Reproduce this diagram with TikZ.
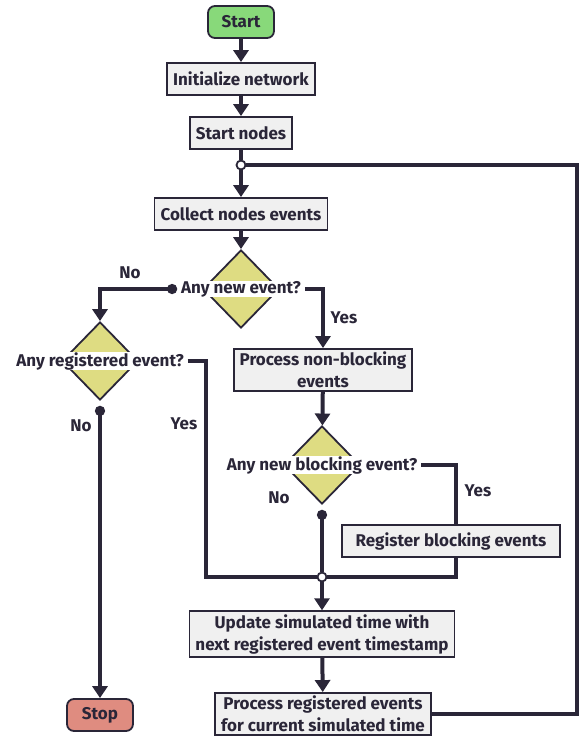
\documentclass[tikz,border=0pt]{standalone}
\usepackage{fontspec}
\setmainfont{Fira Sans}
\usetikzlibrary{
  arrows.meta,
  shapes.geometric,
  positioning,
  calc
}
\definecolor{ink}{HTML}{2A2638}
\definecolor{boxgray}{HTML}{F0F0F0}
\definecolor{startgreen}{HTML}{88D97A}
\definecolor{stopred}{HTML}{DF8C80}
\definecolor{condyellow}{HTML}{DEDC82}
\tikzset{
  block/.style={
    rectangle, draw=ink, line width=1.8pt, fill=boxgray, text=ink,
    minimum height=32pt, inner xsep=6pt, inner ysep=3pt,
    align=center, font=\bfseries\fontsize{17}{22}\selectfont
  },
  terminal/.style={
    block, rounded corners=7pt,
    minimum width=66pt, minimum height=32pt
  },
  decision/.style={
    diamond, draw=ink, line width=1.8pt, fill=condyellow,
    minimum width=76pt, minimum height=78pt, inner sep=0pt
  },
  question/.style={
    fill=white, text=ink, inner xsep=1pt, inner ysep=0pt, outer sep=3pt,
    font=\bfseries\fontsize{17}{22}\selectfont
  },
  answer/.style={text=ink, font=\bfseries\fontsize{17}{22}\selectfont},
  junction/.style={
    circle, draw=ink, line width=1.8pt, fill=white,
    inner sep=0pt, minimum size=9pt
  },
  line/.style={draw=ink, line width=4pt},
  arrow/.style={line, -{Triangle[length=12pt, width=15pt]}},
  dotstart/.style={{Circle[length=10pt]}-},
  dotarrow/.style={line, {Circle[length=10pt]}-{Triangle[length=12pt, width=15pt]}}
}

\begin{document}
\begin{tikzpicture}[x=1pt, y=-1pt]
\useasboundingbox (0,0) rectangle (579,740);

% Start of the run
\node[terminal, fill=startgreen] (start) at (241,22) {Start};
\node[block] (init) at (241,79) {Initialize network};
\node[block] (startn) at (241,133) {Start nodes};
\draw[arrow] (start) -- (init);
\draw[arrow] (init) -- (startn);

% Main loop entry
\node[junction] (j1) at (241,165) {};
\node[block] (collect) at (241,214) {Collect nodes events};
\draw[line] (startn) -- (j1);
\draw[arrow] (j1) -- (collect);

% New event check
\node[decision] (d1) at (241,289) {};
\node[question] (q1) at (d1) {Any new event?};
\draw[arrow] (collect) -- (d1);

% No new event: anything registered?
\node[decision] (d2) at (100,361) {};
\node[question] (q2) at (d2) {Any registered event?};
\draw[dotarrow] (q1.west) -| (d2.north);
\node[answer] at (130,273) {No};

% Yes: non-blocking events
\node[block] (proc1) at (323,370) {Process non-blocking\\events};
\draw[arrow] (q1.east) -| (proc1.north);
\node[answer] at (344,318) {Yes};

% Blocking event check
\node[decision] (d3) at (322,465) {};
\node[question] (q3) at (d3) {Any new blocking event?};
\draw[arrow] (proc1) -- (d3);

% Merge point before time update
\node[junction] (j2) at (322,577) {};
\coordinate (c2) at (206,577);
\coordinate (c3) at (456,577);
\draw[line] (q2.east) -| (c2) -- (j2);
\node[answer] at (184,424) {Yes};
\draw[line] (q3.east) -| (c3) -- (j2);
\node[answer] at (478,491) {Yes};
\draw[line, dotstart, shorten <=5pt] (d3.south) -- (j2);
\node[answer] at (279,498) {No};

\node[block, minimum width=218pt] (reg) at (451,541) {Register blocking events};

% Stop
\node[terminal, fill=stopred] (stop) at (100,715) {Stop};
\draw[dotarrow, shorten <=5pt] (d2.south) -- (stop);
\node[answer] at (81,426) {No};

% Time update and registered events
\node[block] (upd) at (322,634) {Update simulated time with\\next registered event timestamp};
\node[block] (proc2) at (323,714) {Process registered events\\for current simulated time};
\draw[arrow] (j2) -- (upd);
\draw[arrow] (upd) -- (proc2);

% Back to the loop entry
\coordinate (c1) at (577,165);
\draw[line] (proc2.east) -| (c1) -- (j1);

\end{tikzpicture}
\end{document}
